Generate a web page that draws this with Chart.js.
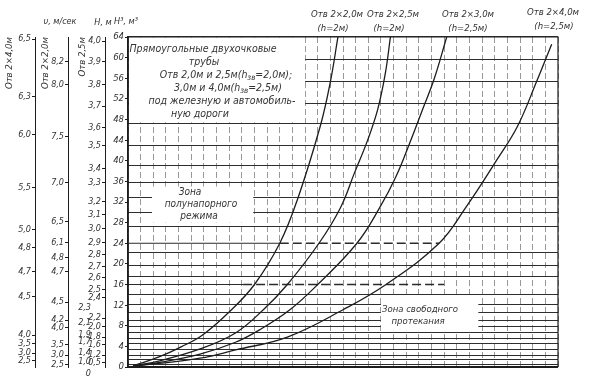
<!DOCTYPE html>
<html><head><meta charset="utf-8">
<script src="https://cdn.jsdelivr.net/npm/chart.js@4.4.0/dist/chart.umd.min.js"></script>
<style>html,body{margin:0;padding:0;background:#fff;}</style>
</head><body>
<canvas id="c" width="591" height="381"></canvas>
<script>
// ---- data ----
const curve1X = [0.4, 2.5, 4.2, 5.9, 8.1, 10.0, 12.0, 13.4, 15.2, 16.0, 16.6];
const curve1Y = [0.2, 2.0, 3.9, 6.2, 10.9, 16, 24, 32.5, 46.7, 55.3, 64];
const curve2X = [0.4, 2.5, 5.7, 8.5, 10.7, 12.6, 15.1, 16.8, 17.9, 18.95, 19.75, 20.35, 20.75];
const curve2Y = [0.2, 1.2, 3.5, 6.6, 11.1, 16, 24, 30.9, 37.6, 44.0, 50.0, 57.0, 64];
const curve3X = [0.4, 2.5, 5.7, 8.5, 10.4, 12.8, 15.0, 18.1, 19.9, 21.2, 22.3, 23.3, 24.2, 25.2];
const curve3Y = [0.2, 0.9, 2.5, 4.8, 7.2, 11.1, 16, 24, 30.9, 37, 43.6, 50, 55.8, 64];
const curve4X = [0.4, 2.5, 5.7, 8.5, 12.6, 17.0, 20.4, 24.6, 26.7, 29.2, 30.8, 32.3, 33.5];
const curve4Y = [0.2, 0.7, 1.7, 3.3, 5.8, 11.1, 16, 24, 30.9, 40.3, 46.7, 55.3, 62.6];
const curveNames = ['Отв 2×2,0м', 'Отв 2×2,5м', 'Отв 2×3,0м', 'Отв 2×4,0м'];
const curveHeads = ['(h=2м)', '(h=2м)', '(h=2,5м)', '(h=2,5м)'];

const level24 = 24, solid24X = [0, 12.0], dash24X = [12.0, 24.6];
const level16 = 16, solid16X = [0, 9.1], dash16X = [9.1, 25.0];

const mainTickValues = [0,4,8,12,16,20,24,28,32,36,40,44,48,52,56,60,64];
const gridLevels = [0.4,1.4,2.3,3.4,4.5,5.6,6.7,7.9,9.1,10.6,12.2,14,17.5,19.7,22.1,27.3,30,32.9,35.8,39.1,43,47.2,51,55.4,59.6,64];

const scaleALabels = ['6,5','6,3','6,0','5,5','5,0','4,8','4,7','4,5','4,0','3,5','3,0','2,5'];
const scaleAValues = [63.6,52.5,45.1,34.8,26.7,23.2,18.5,13.6,6.2,4.5,2.7,1.2];
const scaleBLabels = ['8,2','8,0','7,5','7,0','6,5','6,1','4,8','4,7','4,5','4,2','4,0','3,5','3,0','2,5'];
const scaleBValues = [59.3,54.7,44.7,35.8,28.2,24.1,21.2,18.5,12.6,9.1,7.6,4.3,2.3,0.4];
const scaleCLabels = ['4,0','3,9','3,8','3,7','3,6','3,5','3,4','3,3','3,2','3,1','3,0','2,9','2,8','2,7','2,6','2,5','2,4','2,2','2,0','1,8','1,6','1,2','0,5'];
const scaleCValues = [63.2,59.3,54.7,50.6,46.5,43.0,38.5,35.8,32.1,29.6,26.8,24.1,21.8,19.5,17.3,15.0,13.4,9.5,7.8,5.8,4.3,2.3,0.8];
const scaleC2Labels = ['2,3','2,1','1,9','1,7','1,4','1,0','0'];
const scaleC2Values = [11.5,8.6,6.2,4.9,2.7,1.0,-1.2];

// ---- helpers ----
const FF = "'DejaVu Sans Condensed','DejaVu Sans',sans-serif";
const INK = '#1d1d1d', TXT = '#333';
const pts = (xs, ys) => xs.map((x, i) => ({x, y: ys[i]}));
const flat = (xs, v) => xs.map(x => ({x, y: v}));
const fnt = s => ({family: FF, size: s, style: 'italic'});

function sideAxis(labels, values, title, weight, width, titlePad, opt = {}) {
  return {
    type: 'linear', position: 'left', min: 0, max: 64, weight,
    afterBuildTicks: s => { s.ticks = values.map(v => ({value: v})); },
    afterFit: s => {
      s.width = width;
      if (opt.noClip) s._computeLabelArea = () => undefined;
    },
    ticks: {autoSkip: false, padding: opt.padding ?? 1, color: TXT, font: fnt(9),
            callback: (v, i) => labels[i]},
    grid: {drawOnChartArea: false, drawTicks: opt.drawTicks ?? true, tickLength: 3, color: INK},
    border: {display: opt.border ?? true, color: INK, width: 1},
    title: {display: !!title, text: title, align: 'end', color: TXT, font: fnt(9.5),
            padding: {top: titlePad, bottom: 0}}
  };
}

const curveStyle = {borderColor: INK, borderWidth: 1.3, pointRadius: 0, fill: false, tension: 0.4};

const boxes = [ // [x0, x1, yLow, yHigh] in data units: white label areas
  [0.08, 14.0, 47.45, 63.9],
  [1.9, 9.9, 28.0, 35.0],
  [20.0, 27.7, 7.0, 13.4]
];

function drawRich(ctx, parts, cx, cy, size) {
  let w = 0;
  parts.forEach(p => { ctx.font = `italic ${p[1] ? size * 0.75 : size}px ${FF}`; w += ctx.measureText(p[0]).width; });
  let x = cx - w / 2;
  parts.forEach(p => {
    ctx.font = `italic ${p[1] ? size * 0.75 : size}px ${FF}`;
    ctx.fillText(p[0], x, cy + (p[1] ? 3 : 0));
    x += ctx.measureText(p[0]).width;
  });
}

const titleLines = [
  [['Прямоугольные двухочковые']],
  [['трубы']],
  [['Отв 2,0м и 2,5м(h'], ['зв', 1], ['=2,0м);']],
  [['3,0м и 4,0м(h'], ['зв', 1], ['=2,5м)']],
  [['под железную и автомобиль-']],
  [['ную дороги']]
];
const titleAt = [[203,49],[204,62],[226,75],[228,88],[222,101],[200,114]];
const zone1 = ['Зона', 'полунапорного', 'режима'];
const zone1At = [[190,192],[201,204],[199,216]];
const zone2 = ['Зона свободного', 'протекания'];
const zone2At = [[420,310],[418,322]];
const headAt = [[337,15,333,29],[393,15,389,29],[468,15,468,29],[553,13,554,27]];

const annot = {
  id: 'annot',
  beforeDatasetsDraw(chart) {
    const {ctx, scales: {x, y}} = chart;
    ctx.save(); ctx.fillStyle = '#fff';
    boxes.forEach(b => {
      const l = x.getPixelForValue(b[0]), r = x.getPixelForValue(b[1]);
      const t = y.getPixelForValue(b[3]), bo = y.getPixelForValue(b[2]);
      ctx.fillRect(l, t, r - l, bo - t);
    });
    ctx.restore();
  },
  afterDraw(chart) {
    const {ctx, chartArea: a} = chart;
    ctx.save();
    ctx.strokeStyle = INK;
    ctx.lineWidth = 1.2;
    ctx.beginPath();
    ctx.moveTo(a.left, a.top); ctx.lineTo(a.right, a.top); ctx.lineTo(a.right, a.bottom);
    ctx.stroke();
    ctx.lineWidth = 2;
    ctx.beginPath(); ctx.moveTo(a.left - 1, a.bottom); ctx.lineTo(a.right, a.bottom); ctx.stroke();
    ctx.lineWidth = 1.5;
    ctx.beginPath(); ctx.moveTo(a.left, a.top); ctx.lineTo(a.left, a.bottom); ctx.stroke();

    ctx.fillStyle = TXT; ctx.textAlign = 'left'; ctx.textBaseline = 'middle';
    titleLines.forEach((ln, i) => drawRich(ctx, ln, titleAt[i][0], titleAt[i][1], 10.5));
    ctx.textAlign = 'center';
    ctx.font = `italic 10px ${FF}`;
    zone1.forEach((t, i) => ctx.fillText(t, zone1At[i][0], zone1At[i][1]));
    ctx.font = `italic 9.5px ${FF}`;
    zone2.forEach((t, i) => ctx.fillText(t, zone2At[i][0], zone2At[i][1]));
    ctx.font = `italic 9.5px ${FF}`;
    curveNames.forEach((t, i) => {
      ctx.fillText(t, headAt[i][0], headAt[i][1]);
      ctx.fillText(curveHeads[i], headAt[i][2], headAt[i][3]);
    });
    ctx.font = `italic 9px ${FF}`;
    ctx.fillText('υ, м/сек', 60, 22);
    ctx.fillText('H, м', 103, 23);
    ctx.fillText('H³, м³', 126, 22);
    ctx.restore();
  }
};

new Chart(document.getElementById('c'), {
  type: 'line',
  data: {
    datasets: [
      {data: pts(curve1X, curve1Y), ...curveStyle},
      {data: pts(curve2X, curve2Y), ...curveStyle},
      {data: pts(curve3X, curve3Y), ...curveStyle},
      {data: pts(curve4X, curve4Y), ...curveStyle},
      {data: flat(solid24X, level24), borderColor: '#2a2a2a', borderWidth: 1.1, pointRadius: 0},
      {data: flat(dash24X, level24), borderColor: '#2a2a2a', borderWidth: 1.5, borderDash: [9, 4], pointRadius: 0},
      {data: flat(solid16X, level16), borderColor: '#2a2a2a', borderWidth: 1.1, pointRadius: 0},
      {data: flat(dash16X, level16), borderColor: '#2a2a2a', borderWidth: 1.5, borderDash: [9, 4], pointRadius: 0}
    ]
  },
  options: {
    responsive: false, animation: false,
    layout: {padding: {top: 37, right: 33, left: 0, bottom: 0}},
    plugins: {legend: {display: false}, tooltip: {enabled: false}},
    scales: {
      x: {
        type: 'linear', min: 0, max: 34,
        afterFit: s => { s.height = 14; },
        ticks: {display: false, stepSize: 1},
        grid: {color: '#7d7d7d', lineWidth: 0.8, drawTicks: false},
        border: {display: false, dash: [6, 3]}
      },
      y: {
        type: 'linear', position: 'left', min: 0, max: 64, weight: 0,
        afterBuildTicks: s => { s.ticks = mainTickValues.map(v => ({value: v})); },
        afterFit: s => { s.width = 23; },
        ticks: {autoSkip: false, padding: 1, color: TXT, font: fnt(9.5)},
        grid: {drawOnChartArea: false, tickLength: 3, color: INK},
        border: {display: true, color: INK, width: 1.5}
      },
      yg: {
        type: 'linear', position: 'right', min: 0, max: 64,
        afterBuildTicks: s => { s.ticks = gridLevels.map(v => ({value: v})); },
        afterFit: s => { s.width = 0; },
        ticks: {display: false},
        grid: {color: '#2e2e2e', lineWidth: 1.1, drawTicks: false},
        border: {display: false}
      },
      yC: sideAxis(scaleCLabels, scaleCValues, 'Отв 2,5м', 1, 37, 8.5),
      yC2: sideAxis(scaleC2Labels, scaleC2Values, '', 2, 0, 0, {padding: -23, drawTicks: false, border: false, noClip: true}),
      yB: sideAxis(scaleBLabels, scaleBValues, 'Отв 2×2,0м', 3, 33, 5),
      yA: sideAxis(scaleALabels, scaleAValues, 'Отв 2×4,0м', 4, 35, 3.5)
    }
  },
  plugins: [annot]
});
</script>
</body></html>
